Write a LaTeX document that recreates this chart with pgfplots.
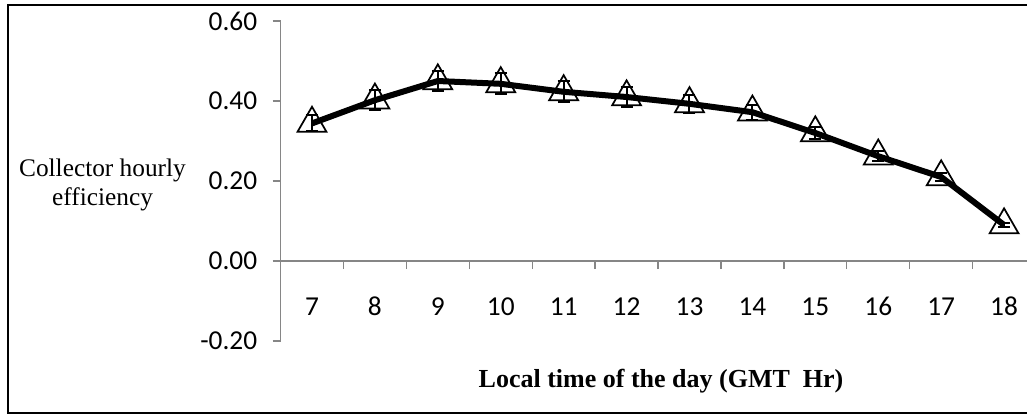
\documentclass[border=0pt]{standalone}
\usepackage{pgfplots}
\pgfplotsset{compat=1.18}
\usepackage{fontspec}
\setmainfont{Liberation Serif}
\newfontfamily\calibri{Carlito}
\definecolor{axgray}{HTML}{868686}
\begin{document}
\begin{tikzpicture}[x=0.75pt,y=0.75pt]
\useasboundingbox (0,0) rectangle (1027,415);
\clip (0,0) rectangle (1027,415);
\begin{axis}[
  at={(210.4pt,55.5pt)}, anchor=south west,
  scale only axis, width=566.25pt, height=240pt,
  xmin=6.5, xmax=18.5, ymin=-0.2, ymax=0.6,
  axis y line=left, axis x line=middle,
  axis line style={-, axgray, line width=1pt},
  hide obscured x ticks=false, hide obscured y ticks=false,
  clip=false,
  tick align=outside,
  major tick length=6pt,
  tick style={axgray, line width=1pt},
  xtick={7.5,8.5,...,17.5}, xticklabels={},
  extra x ticks={7,8,9,10,11,12,13,14,15,16,17,18},
  extra x tick style={major tick length=0pt, tick label style={text height=11.5pt, text depth=0pt, yshift=-25.5pt}},
  ytick={-0.2,0,0.2,0.4,0.6},
  yticklabel style={/pgf/number format/fixed, /pgf/number format/fixed zerofill, /pgf/number format/precision=2, xshift=-8pt},
  tick label style={font=\calibri\fontsize{20.5pt}{23pt}\selectfont},
  /pgf/number format/assume math mode=true,
  every axis y label/.style={at={(axis description cs:-0.2358,0.4875)}, anchor=center, align=center, font=\fontsize{19pt}{21.75pt}\selectfont},
  ylabel={Collector hourly\\efficiency},
  every axis x label/.style={at={(axis description cs:0.504,-0.144)}, anchor=base, font=\bfseries\fontsize{19.5pt}{22pt}\selectfont},
  xlabel={Local time of the day (GMT\ \ Hr)},
]
\addplot[black, line width=4.5pt, mark=triangle, mark size=12.5pt,
  mark options={solid, fill=none, line width=1.3pt}]
  coordinates {(7,0.344) (8,0.402) (9,0.45) (10,0.443) (11,0.423) (12,0.41) (13,0.393) (14,0.372) (15,0.32) (16,0.262) (17,0.21) (18,0.09)};
\addplot[draw=none, mark=none, forget plot,
  error bars/.cd, y dir=both, y explicit,
  error bar style={draw=black, solid, line width=1.5pt},
  error mark options={rotate=90, mark size=4.5pt, draw=black, line width=1.6pt}]
  coordinates {(7,0.344)+-(0,0.02) (8,0.402)+-(0,0.025) (9,0.45)+-(0,0.026) (10,0.443)+-(0,0.026) (11,0.423)+-(0,0.026) (12,0.41)+-(0,0.024) (13,0.393)+-(0,0.022) (14,0.372)+-(0,0.019) (15,0.32)+-(0,0.014) (16,0.262)+-(0,0.013) (17,0.21)+-(0,0.011) (18,0.09)+-(0,0.005)};
\end{axis}
\draw[black, line width=1.1pt] (8,2) rectangle (1045,410);
\end{tikzpicture}
\end{document}
